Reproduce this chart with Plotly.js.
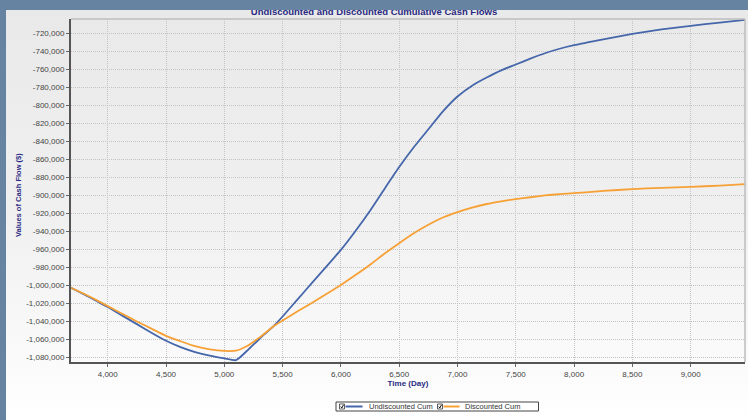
<!DOCTYPE html>
<html>
<head>
<meta charset="utf-8">
<script src="https://cdn.plot.ly/plotly-3.0.1.min.js"></script>
<style>
  html, body { margin: 0; padding: 0; width: 748px; height: 420px; overflow: hidden; background: #6683a1; }
  #panel { position: absolute; left: 6px; top: 10px; width: 742px; height: 410px; overflow: hidden;
           background: linear-gradient(to bottom, #e9e9e9 0%, #f0f0f0 50%, #fafafa 85%, #ffffff 100%); }
  #chart { width: 742px; height: 410px; }
</style>
</head>
<body>
<div id="panel"><div id="chart"></div></div>
<script>
const days = [3685, 3800, 3900, 4000, 4125, 4250, 4375, 4500, 4625, 4750, 4875, 5000, 5100, 5200, 5300, 5420,
  5500, 5625, 5750, 5875, 6000, 6125, 6250, 6375, 6500, 6625, 6750, 6875, 7000, 7125, 7250, 7375, 7500,
  7625, 7750, 7875, 8000, 8250, 8500, 8750, 9000, 9250, 9466];

const undiscountedCum = [-1003000, -1010500, -1017500, -1024500, -1034000, -1043500, -1053000, -1062000,
  -1069000, -1074500, -1078500, -1081500, -1083500, -1072500, -1060000, -1046000,
  -1035000, -1016500, -998000, -979500, -961000, -940000, -917500, -893000, -869000, -847000, -827000,
  -807000, -790500, -778500, -769500, -761500, -755000, -748500, -742500, -737500, -733500, -727000,
  -721000, -716000, -712000, -708500, -705500];

const discountedCum = [-1003000, -1010000, -1016500, -1023500, -1032000, -1040500, -1048500, -1056500,
  -1062500, -1068000, -1071500, -1073300, -1073000, -1067500, -1058500, -1046000,
  -1039500, -1029500, -1020000, -1010000, -1000000, -989000, -977500, -965000, -953500, -942500, -933000,
  -925000, -919000, -914000, -910000, -907000, -904500, -902500, -900500, -899000, -898000, -895500,
  -893500, -892000, -891000, -889500, -888000];

const xTickVals = [4000, 4500, 5000, 5500, 6000, 6500, 7000, 7500, 8000, 8500, 9000];
const yTickVals = [-1080000, -1060000, -1040000, -1020000, -1000000, -980000, -960000, -940000, -920000,
  -900000, -880000, -860000, -840000, -820000, -800000, -780000, -760000, -740000, -720000];

const seriesNames = ['Undiscounted Cum', 'Discounted Cum'];
const seriesColors = ['#4566aa', '#f7a035'];
const titleText = 'Undiscounted and Discounted Cumulative Cash Flows';
const xTitle = 'Time (Day)';
const yTitle = 'Values of Cash Flow ($)';

const fmt = v => (v < 0 ? '-' : '') + Math.abs(v).toString().replace(/\B(?=(\d{3})+(?!\d))/g, ',');

// plot-area geometry in page pixels (panel is offset 6,10)
const PL = 71, PR = 745, PT = 19, PB = 362;
const px = x => (x - PL) / (PR - PL);
const py = y => (PB - y) / (PB - PT);

const traces = seriesNames.map((n, i) => ({
  x: days, y: i === 0 ? undiscountedCum : discountedCum, name: n, type: 'scatter', mode: 'lines',
  showlegend: false,
  line: { color: seriesColors[i], width: 1.8, shape: 'spline', smoothing: 0.6 }
}));

const tickFont = { family: 'Liberation Sans, Arial, sans-serif', size: 8, color: '#444' };
const navy = '#2a2a82';

// custom legend (checkbox + line + text), matching the original widget
const legendShapes = [
  { type: 'rect', xref: 'paper', yref: 'paper', x0: px(336), x1: px(538.5), y0: py(411), y1: py(402),
    fillcolor: '#ffffff', line: { color: '#444', width: 1 } }
];
const legendAnn = [];
const legendItems = [
  { box: 339.5, lineFrom: 345.5, lineTo: 362.5, text: 366.5 },
  { box: 437.5, lineFrom: 443.5, lineTo: 459.5, text: 462.5 }
];
legendItems.forEach((it, i) => {
  legendShapes.push({ type: 'rect', xref: 'paper', yref: 'paper', x0: px(it.box), x1: px(it.box + 5),
    y0: py(409), y1: py(404), fillcolor: '#ffffff', line: { color: '#333', width: 0.8 } });
  legendShapes.push({ type: 'path', xref: 'paper', yref: 'paper',
    path: `M ${px(it.box + 1.2)} ${py(406.5)} L ${px(it.box + 2.3)} ${py(408)} L ${px(it.box + 4)} ${py(404.8)}`,
    line: { color: '#111', width: 1 } });
  legendShapes.push({ type: 'line', xref: 'paper', yref: 'paper', x0: px(it.lineFrom), x1: px(it.lineTo),
    y0: py(406.5), y1: py(406.5), line: { color: seriesColors[i], width: 2 } });
  legendAnn.push({ text: seriesNames[i], xref: 'paper', yref: 'paper', x: px(it.text), y: py(406.5),
    xanchor: 'left', yanchor: 'middle', showarrow: false,
    font: { family: 'Liberation Sans, Arial, sans-serif', size: 7.5, color: '#333' } });
});

const layout = {
  width: 742, height: 410,
  margin: { l: PL - 6, r: 748 - PR, t: PT - 10, b: 420 - PB },
  paper_bgcolor: 'rgba(0,0,0,0)',
  plot_bgcolor: 'rgba(0,0,0,0)',
  title: { text: titleText, x: 0.496, xanchor: 'center', xref: 'container', y: 0.996, yref: 'container', yanchor: 'middle',
    font: { family: 'Liberation Sans, Arial, sans-serif', size: 9.5, color: navy, weight: 'bold' } },
  showlegend: false,
  hovermode: false,
  xaxis: {
    range: [3685, 9466], automargin: false,
    tickvals: xTickVals, ticktext: xTickVals.map(fmt),
    tickfont: tickFont,
    ticks: 'outside', ticklen: 3, tickcolor: '#666',
    showline: true, linecolor: '#555', linewidth: 2,
    showgrid: true, gridcolor: '#c4c4c4', griddash: '1px,1px', gridwidth: 1,
    zeroline: false,
    title: { text: xTitle, standoff: 2,
      font: { family: 'Liberation Sans, Arial, sans-serif', size: 8, color: navy, weight: 'bold' } }
  },
  yaxis: {
    range: [-1085556, -704444], automargin: false,
    tickvals: yTickVals, ticktext: yTickVals.map(fmt),
    tickfont: tickFont,
    ticks: 'outside', ticklen: 3, tickcolor: '#666',
    showline: true, linecolor: '#555', linewidth: 2,
    showgrid: true, gridcolor: '#c4c4c4', griddash: '1px,1px', gridwidth: 1,
    zeroline: false
  },
  shapes: [
    { type: 'line', xref: 'paper', yref: 'paper', x0: 0, x1: 1, y0: 1, y1: 1, line: { color: '#bdbdbd', width: 1.5 } },
    { type: 'line', xref: 'paper', yref: 'paper', x0: 1, x1: 1, y0: 0, y1: 1, line: { color: '#bdbdbd', width: 1.5 } }
  ].concat(legendShapes),
  annotations: [
    { text: yTitle, xref: 'paper', yref: 'paper', x: px(18), y: py(195), xanchor: 'center', yanchor: 'middle',
      textangle: -90, showarrow: false,
      font: { family: 'Liberation Sans, Arial, sans-serif', size: 7.5, color: navy, weight: 'bold' } }
  ].concat(legendAnn)
};

Plotly.newPlot('chart', traces, layout, { staticPlot: true, displayModeBar: false });
</script>
</body>
</html>
